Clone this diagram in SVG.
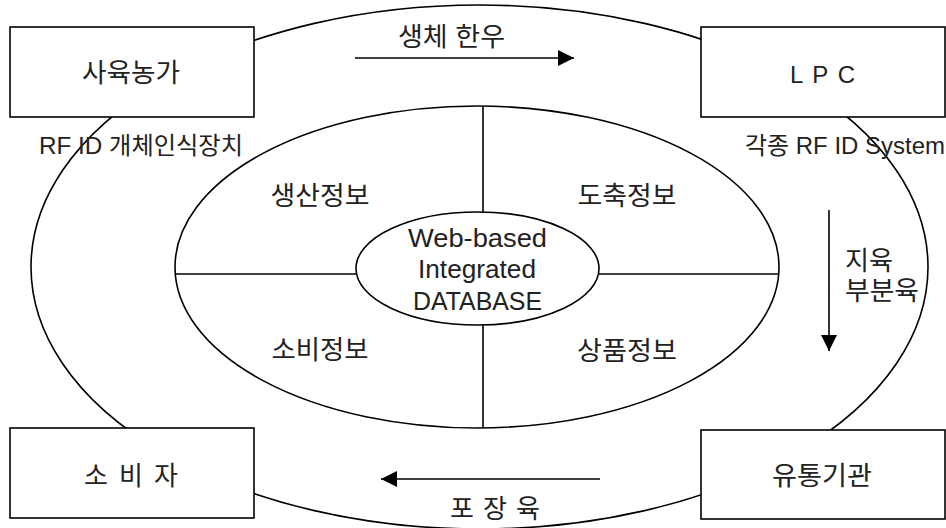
<svg xmlns="http://www.w3.org/2000/svg" width="946" height="528" viewBox="0 0 946 528">
  <style>
    .ln { fill: none; stroke: #000; stroke-width: 1.6; }
    .box { fill: #fff; stroke: #000; stroke-width: 1.6; }
    .t { font-family: "Liberation Sans", "Noto Sans CJK KR", sans-serif; font-size: 24px; fill: #222; }
    .k { font-size: 26px; }
    .m { text-anchor: middle; }
  </style>
  <defs>
    <marker id="arrow" viewBox="0 0 16 16" refX="16" refY="8" markerWidth="16" markerHeight="16" markerUnits="userSpaceOnUse" orient="auto">
      <path d="M0,0 L16,8 L0,16 Z" fill="#000"/>
    </marker>
  </defs>

  <rect width="946" height="528" fill="#fff"/>

  <!-- outer cycle ring -->
  <g id="outer-ring">
    <ellipse class="ln" cx="479.5" cy="267" rx="448.5" ry="262"/>
  </g>

  <!-- information ellipse split into four quadrants -->
  <g id="info-ring">
    <ellipse class="ln" cx="477" cy="267" rx="302" ry="161"/>
    <line class="ln" x1="483" y1="106" x2="483" y2="212"/>
    <line class="ln" x1="483" y1="325" x2="483" y2="428"/>
    <line class="ln" x1="175" y1="274" x2="356" y2="274"/>
    <line class="ln" x1="599" y1="274" x2="779" y2="274"/>
  </g>

  <g id="info-production"><text class="t k m" x="320" y="205" textLength="99" lengthAdjust="spacingAndGlyphs">생산정보</text></g>
  <g id="info-slaughter"><text class="t k m" x="627" y="205" textLength="99" lengthAdjust="spacingAndGlyphs">도축정보</text></g>
  <g id="info-consumption"><text class="t k m" x="320" y="359" textLength="97" lengthAdjust="spacingAndGlyphs">소비정보</text></g>
  <g id="info-product"><text class="t k m" x="627" y="360" textLength="100" lengthAdjust="spacingAndGlyphs">상품정보</text></g>

  <!-- central database -->
  <g id="database">
    <ellipse class="ln" cx="477.5" cy="268.5" rx="121.5" ry="56.5" fill="#fff"/>
    <text class="t k m" x="477.5" y="247" textLength="139" lengthAdjust="spacingAndGlyphs">Web-based</text>
    <text class="t k m" x="477" y="278" textLength="118" lengthAdjust="spacingAndGlyphs">Integrated</text>
    <text class="t k m" x="477.5" y="310" textLength="129" lengthAdjust="spacingAndGlyphs">DATABASE</text>
  </g>

  <!-- flow arrows between stages -->
  <g id="connectors">
    <line class="ln" x1="355" y1="58" x2="574" y2="58" marker-end="url(#arrow)"/>
    <line class="ln" x1="829" y1="210" x2="829" y2="351" marker-end="url(#arrow)"/>
    <line class="ln" x1="600" y1="479" x2="381" y2="479" marker-end="url(#arrow)"/>
    <text class="t k" x="398" y="46" textLength="107" lengthAdjust="spacingAndGlyphs">생체 한우</text>
    <text class="t k" x="845" y="270" textLength="48" lengthAdjust="spacingAndGlyphs">지육</text>
    <text class="t k" x="845" y="300" textLength="74" lengthAdjust="spacingAndGlyphs">부분육</text>
    <text class="t k" x="450" y="518" textLength="90" lengthAdjust="spacing">포 장 육</text>
  </g>

  <g id="farm">
    <rect class="box" x="10" y="27" width="244" height="90"/>
    <text class="t k" x="82" y="82" textLength="98" lengthAdjust="spacingAndGlyphs">사육농가</text>
  </g>
  <g id="lpc">
    <rect class="box" x="701" y="27" width="244" height="90"/>
    <text class="t" x="790" y="83" textLength="65" lengthAdjust="spacing">L P C</text>
  </g>
  <g id="consumer">
    <rect class="box" x="10" y="428" width="244" height="90"/>
    <text class="t k" x="84" y="485" textLength="94" lengthAdjust="spacing">소 비 자</text>
  </g>
  <g id="distributor">
    <rect class="box" x="701" y="430" width="244" height="89"/>
    <text class="t k" x="772" y="485" textLength="100" lengthAdjust="spacingAndGlyphs">유통기관</text>
  </g>

  <!-- device labels (drawn above the ring line crossings) -->
  <g id="labels">
    <text class="t" x="39" y="154" textLength="204" lengthAdjust="spacingAndGlyphs">RF ID 개체인식장치</text>
    <text class="t" x="745" y="154" textLength="200" lengthAdjust="spacingAndGlyphs">각종 RF ID System</text>
  </g>
</svg>
